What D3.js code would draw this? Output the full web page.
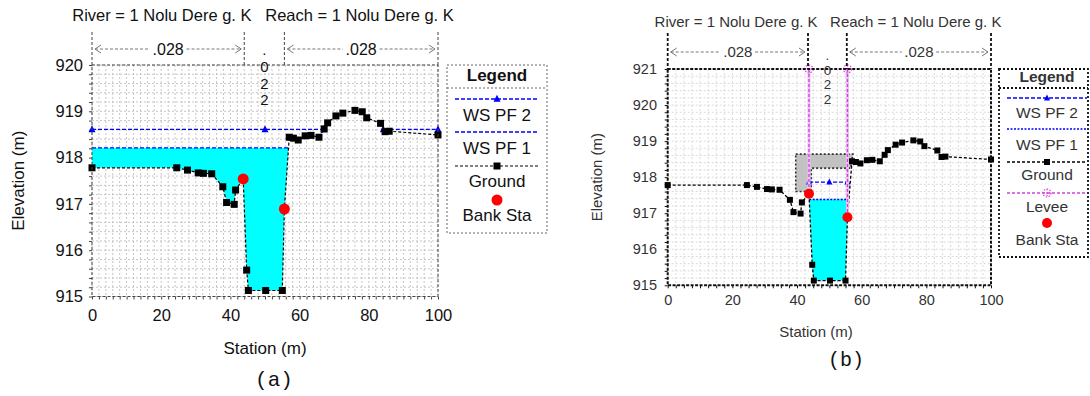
<!DOCTYPE html>
<html>
<head>
<meta charset="utf-8">
<script src="https://cdn.jsdelivr.net/npm/d3@7"></script>
<style>
  body { margin: 0; background: #fff; }
  svg text { font-family: "Liberation Sans", Arial, sans-serif; }
</style>
</head>
<body>
<svg id="chart" width="1090" height="396"></svg>
<script>
// cross section (same ground in both panels)
const groundSta = [0, 24.5, 27.6, 30.7, 32.2, 34.6, 37.8, 38.9, 41.1, 41.5, 43.7, 44.7, 45.2, 50.2, 55.0, 55.6,
  57.0, 58.2, 59.6, 61.6, 63.3, 65.6, 67.1, 68.1, 70.5, 72.5, 76.0, 78.1, 79.4, 83.4, 84.7, 85.9, 100];
const groundElev = [917.78, 917.78, 917.73, 917.67, 917.66, 917.65, 917.37, 917.03, 916.99, 917.30, 917.54, 915.57, 915.13, 915.13, 915.13, 916.89,
  918.44, 918.42, 918.38, 918.47, 918.48, 918.44, 918.62, 918.75, 918.90, 918.96, 919.02, 918.99, 918.86, 918.74, 918.56, 918.57, 918.49];

const bankSta = [43.7, 55.6];
const bankElev = [917.54, 916.89];

const nValues = ['.028', '.022', '.028'];
const nBreaksA = [0, 44.0, 55.6, 100];
const nBreaksB = [0, 43.4, 55.4, 100];

// water surfaces
const wsPf2A = 918.61, wsPf1A = 918.21;
const wsPf2B = 917.86, wsPf1B = 917.38;
const ws2MarksA = [0, 50, 67.0, 84.2, 100];
const ws2MarksB = [43.7, 50, 55.6];

// levees (panel b only)
const leveeSta = [43.7, 55.6];
const leveeElev = [921, 921];

// ineffective / obstructed area (panel b)
const ineffSta = [39.6, 57.3, 56.6, 44.4, 44.4, 39.6];
const ineffElev = [918.64, 918.64, 918.25, 918.25, 917.6, 917.6];

const xTicks = [0, 20, 40, 60, 80, 100];
const yTicksA = [915, 916, 917, 918, 919, 920];
const yTicksB = [915, 916, 917, 918, 919, 920, 921];

const legendA = ['WS PF 2', 'WS PF 1', 'Ground', 'Bank Sta'];
const legendB = ['WS PF 2', 'WS PF 1', 'Ground', 'Levee', 'Bank Sta'];
const titleText = 'River = 1 Nolu Dere g. K   Reach = 1 Nolu Dere g. K';

const svg = d3.select('#chart');

function groundAt(s) {
  let i = d3.bisectLeft(groundSta, s);
  i = Math.min(Math.max(i, 1), groundSta.length - 1);
  const x0 = groundSta[i - 1], x1 = groundSta[i];
  const t = (s - x0) / (x1 - x0);
  return groundElev[i - 1] + t * (groundElev[i] - groundElev[i - 1]);
}

// parts of the section between lo and hi where the ground is under the water surface
function wetSegments(ws, lo, hi) {
  const pts = [[lo, groundAt(lo)]];
  groundSta.forEach((s, i) => { if (s > lo && s < hi) pts.push([s, groundElev[i]]); });
  pts.push([hi, groundAt(hi)]);
  const segs = [];
  let cur = null;
  pts.forEach((p, i) => {
    if (i > 0) {
      const q = pts[i - 1];
      if ((q[1] - ws) * (p[1] - ws) < 0) {
        const c = [q[0] + (ws - q[1]) / (p[1] - q[1]) * (p[0] - q[0]), ws];
        if (cur) { cur.push(c); segs.push(cur); cur = null; }
        else cur = [c];
      }
    }
    if (p[1] <= ws) { if (!cur) cur = []; cur.push(p); }
  });
  if (cur) segs.push(cur);
  return segs;
}

function triangle(sel, cx, cy, s, color) {
  sel.append('path')
    .attr('d', `M${cx},${cy - s * 0.6}L${cx + s / 2},${cy + s * 0.4}L${cx - s / 2},${cy + s * 0.4}Z`)
    .attr('fill', color);
}

function leveeMark(sel, cx, cy, r) {
  sel.append('circle').attr('cx', cx).attr('cy', cy).attr('r', r)
    .attr('fill', 'none').attr('stroke', '#e040e0').attr('stroke-width', 1.2).attr('stroke-dasharray', '1.5,1.5');
  sel.append('path').attr('d', `M${cx - r},${cy}H${cx + r}M${cx},${cy - r}V${cy + r}`)
    .attr('stroke', '#e040e0').attr('stroke-width', 1).attr('stroke-dasharray', '1.5,1.5');
}

function drawPanel(c) {
  const g = svg.append('g');
  const x = d3.scaleLinear().domain([0, 100]).range([c.left, c.right]);
  const y = d3.scaleLinear().domain(c.yDomain).range([c.bottom, c.top]);

  // grid
  const gx = d3.range(0, 100.001, c.gridDx);
  const gy = d3.range(c.yDomain[0], c.yDomain[1] + 0.001, 0.2);
  g.append('g').selectAll('line').data(gx).join('line')
    .attr('x1', d => x(d)).attr('x2', d => x(d)).attr('y1', c.top).attr('y2', c.bottom)
    .attr('stroke', c.gridColor).attr('stroke-width', 0.8).attr('stroke-dasharray', '2,2');
  g.append('g').selectAll('line').data(gy).join('line')
    .attr('x1', c.left).attr('x2', c.right).attr('y1', d => y(d)).attr('y2', d => y(d))
    .attr('stroke', c.gridColor).attr('stroke-width', 0.8).attr('stroke-dasharray', '2,2');

  // small ticks along left and bottom
  g.append('g').attr('transform', `translate(${c.left},0)`)
    .call(d3.axisLeft(y).tickValues(gy).tickSize(3).tickFormat(''))
    .call(a => a.select('.domain').remove())
    .call(a => a.selectAll('line').attr('stroke', c.frameColor));
  g.append('g').attr('transform', `translate(0,${c.bottom})`)
    .call(d3.axisBottom(x).tickValues(gx).tickSize(3).tickFormat(''))
    .call(a => a.select('.domain').remove())
    .call(a => a.selectAll('line').attr('stroke', c.frameColor));

  // tick labels
  g.append('g').attr('transform', `translate(${c.left},0)`)
    .call(d3.axisLeft(y).tickValues(c.yTicks).tickSize(0).tickPadding(c.left - c.yLabelRight).tickFormat(d3.format('d')))
    .call(a => a.select('.domain').remove())
    .call(a => a.selectAll('text').attr('font-size', c.tickFont).attr('fill', c.textColor)
      .style('font-family', '"Liberation Sans", Arial, sans-serif'));
  g.append('g').attr('transform', `translate(0,${c.bottom})`)
    .call(d3.axisBottom(x).tickValues(xTicks).tickSize(0).tickPadding(c.xLabelPad).tickFormat(d3.format('d')))
    .call(a => a.select('.domain').remove())
    .call(a => a.selectAll('text').attr('font-size', c.tickFont).attr('fill', c.textColor)
      .style('font-family', '"Liberation Sans", Arial, sans-serif'));

  // obstructed area
  if (c.ineff) {
    g.append('path')
      .attr('d', d3.line().x(d => x(d[0])).y(d => y(d[1]))(d3.zip(ineffSta, ineffElev)) + 'Z')
      .attr('fill', '#c2c2c2').attr('stroke', '#333').attr('stroke-width', 1.6).attr('stroke-dasharray', '2,2');
  }

  // water fill (WS PF 1)
  const wet1 = wetSegments(c.ws1, c.wetRange[0], c.wetRange[1]);
  const area = d3.area().x(d => x(d[0])).y0(d => y(d[1])).y1(y(c.ws1));
  wet1.forEach(s => g.append('path').attr('d', area(s)).attr('fill', '#00ffff'));

  // water surface lines
  const wet2 = wetSegments(c.ws2, c.wetRange[0], c.wetRange[1]);
  wet2.forEach(s => g.append('line')
    .attr('x1', x(s[0][0])).attr('x2', x(s[s.length - 1][0])).attr('y1', y(c.ws2)).attr('y2', y(c.ws2))
    .attr('stroke', '#0000ff').attr('stroke-width', 1.3).attr('stroke-dasharray', '4,2'));
  c.ws2Marks.forEach(s => triangle(g, x(s), y(c.ws2), c.triSize, '#0000ff'));
  wet1.forEach(s => g.append('line')
    .attr('x1', x(s[0][0])).attr('x2', x(s[s.length - 1][0])).attr('y1', y(c.ws1)).attr('y2', y(c.ws1))
    .attr('stroke', '#0000ff').attr('stroke-width', 1.3).attr('stroke-dasharray', c.ws1Dash));

  // ground
  g.append('path').datum(d3.zip(groundSta, groundElev))
    .attr('d', d3.line().x(d => x(d[0])).y(d => y(d[1])))
    .attr('fill', 'none').attr('stroke', '#000').attr('stroke-width', c.groundWidth).attr('stroke-dasharray', '3,2');
  g.append('g').selectAll('rect').data(d3.zip(groundSta, groundElev)).join('rect')
    .attr('x', d => x(d[0]) - c.sq / 2).attr('y', d => y(d[1]) - c.sq / 2)
    .attr('width', c.sq).attr('height', c.sq).attr('fill', '#000');

  // levees
  if (c.levee) {
    leveeSta.forEach((s, i) => {
      g.append('line').attr('x1', x(s)).attr('x2', x(s)).attr('y1', y(leveeElev[i])).attr('y2', y(groundAt(s)))
        .attr('stroke', '#ebc4f2').attr('stroke-width', 3);
      g.append('line').attr('x1', x(s)).attr('x2', x(s)).attr('y1', y(leveeElev[i])).attr('y2', y(groundAt(s)))
        .attr('stroke', '#d040e0').attr('stroke-width', 1.3).attr('stroke-dasharray', '3,2');
      leveeMark(g, x(s), y(leveeElev[i]), 4);
    });
  }

  // bank stations
  g.append('g').selectAll('circle').data(d3.zip(bankSta, bankElev)).join('circle')
    .attr('cx', d => x(d[0])).attr('cy', d => y(d[1])).attr('r', c.bankR).attr('fill', '#ff0000');

  // frame
  g.append('rect').attr('x', c.left).attr('y', c.top).attr('width', c.right - c.left).attr('height', c.bottom - c.top)
    .attr('fill', 'none').attr('stroke', c.frameColor).attr('stroke-width', c.frameWidth).attr('stroke-dasharray', c.frameDash);

  // Manning's n annotation above the plot
  const nb = c.nBreaks;
  nb.forEach(s => g.append('line').attr('x1', x(s)).attr('x2', x(s)).attr('y1', c.annTop).attr('y2', c.top)
    .attr('stroke', c.frameColor).attr('stroke-width', c.annWidth).attr('stroke-dasharray', '3,2'));
  nValues.forEach((v, i) => {
    const x0 = x(nb[i]), x1 = x(nb[i + 1]), mid = (x0 + x1) / 2;
    if (i === 1) {
      ['.', ...v.slice(1)].forEach((ch, k) => g.append('text')
        .attr('x', mid).attr('y', c.chanY0 + k * c.chanStep).attr('text-anchor', 'middle')
        .attr('font-size', c.chanFont).attr('fill', c.textColor).text(ch));
      return;
    }
    const half = c.nFont * 1.15;
    const ay = c.arrowY;
    g.append('path').attr('d', `M${x0 + 3},${ay}H${mid - half}M${mid + half},${ay}H${x1 - 3}`)
      .attr('stroke', '#777').attr('stroke-width', 1).attr('stroke-dasharray', '3,2');
    g.append('path').attr('d', `M${x0 + 9},${ay - 4}L${x0 + 3},${ay}L${x0 + 9},${ay + 4}M${x1 - 9},${ay - 4}L${x1 - 3},${ay}L${x1 - 9},${ay + 4}`)
      .attr('fill', 'none').attr('stroke', '#777').attr('stroke-width', 1);
    g.append('text').attr('x', mid).attr('y', c.nLabelY).attr('text-anchor', 'middle')
      .attr('font-size', c.nFont).attr('fill', c.textColor).text(v);
  });

  // titles and axis labels
  g.append('text').attr('x', c.titleX).attr('y', c.titleY).attr('text-anchor', 'middle')
    .attr('font-size', c.titleFont).attr('fill', c.textColor).style('white-space', 'pre').text(titleText);
  g.append('text').attr('transform', `translate(${c.elevX},${(c.top + c.bottom) / 2}) rotate(-90)`)
    .attr('text-anchor', 'middle').attr('font-size', c.axisFont).attr('fill', c.textColor).text('Elevation (m)');
  g.append('text').attr('x', c.stationX).attr('y', c.stationY).attr('text-anchor', 'middle')
    .attr('font-size', c.axisFont).attr('fill', c.textColor).text('Station (m)');
  g.append('text').attr('x', c.tagX).attr('y', c.tagY).attr('text-anchor', 'middle')
    .style('font-family', '"Liberation Mono", "Courier New", monospace')
    .attr('font-size', c.tagFont).attr('fill', '#111').text(c.tag);

  // legend
  const L = c.legend;
  g.append('rect').attr('x', L.x).attr('y', L.y).attr('width', L.w).attr('height', L.h)
    .attr('fill', '#fff').attr('stroke', c.legendStroke).attr('stroke-width', c.legendStrokeW).attr('stroke-dasharray', '2,2');
  g.append('text').attr('x', L.cx).attr('y', L.headY).attr('text-anchor', 'middle')
    .attr('font-size', L.font).attr('font-weight', 'bold').attr('fill', c.textColor).text('Legend');
  g.append('line').attr('x1', L.x).attr('x2', L.x + L.w).attr('y1', L.sepY).attr('y2', L.sepY)
    .attr('stroke', c.legendStroke).attr('stroke-width', c.legendStrokeW).attr('stroke-dasharray', '2,2');
  c.legendNames.forEach((name, i) => {
    const ly = L.lineY[i];
    if (name.startsWith('WS')) {
      g.append('line').attr('x1', L.lx0).attr('x2', L.lx1).attr('y1', ly).attr('y2', ly)
        .attr('stroke', '#0000ff').attr('stroke-width', 1.3).attr('stroke-dasharray', name === 'WS PF 2' ? '4,2' : c.ws1Dash);
      if (name === 'WS PF 2') triangle(g, L.cx, ly, c.triSize, '#0000ff');
    } else if (name === 'Ground') {
      g.append('line').attr('x1', L.lx0).attr('x2', L.lx1).attr('y1', ly).attr('y2', ly)
        .attr('stroke', '#000').attr('stroke-width', c.groundWidth).attr('stroke-dasharray', '3,2');
      g.append('rect').attr('x', L.cx - c.sq / 2).attr('y', ly - c.sq / 2).attr('width', c.sq).attr('height', c.sq).attr('fill', '#000');
    } else if (name === 'Levee') {
      g.append('line').attr('x1', L.lx0).attr('x2', L.lx1).attr('y1', ly).attr('y2', ly)
        .attr('stroke', '#d040e0').attr('stroke-width', 1.4).attr('stroke-dasharray', '3,2');
      leveeMark(g, L.cx, ly, 4);
    } else {
      g.append('circle').attr('cx', L.cx).attr('cy', ly).attr('r', c.bankR).attr('fill', '#ff0000');
    }
    g.append('text').attr('x', L.cx).attr('y', L.textY[i]).attr('text-anchor', 'middle')
      .attr('font-size', L.font).attr('fill', c.textColor).text(name);
  });
}

drawPanel({
  left: 92, right: 438, top: 65, bottom: 296.5, yDomain: [915, 920], yTicks: yTicksA,
  gridDx: 2, gridColor: '#b8b8b8', frameColor: '#444', frameWidth: 1, frameDash: '3,2', annWidth: 1,
  textColor: '#111', tickFont: 16.5, yLabelRight: 83, xLabelPad: 13,
  ws1: wsPf1A, ws2: wsPf2A, wetRange: [0, 100], ws2Marks: ws2MarksA, ws1Dash: '4,2',
  triSize: 7, sq: 7, bankR: 5.5, groundWidth: 1.2,
  ineff: false, levee: false,
  nBreaks: nBreaksA, annTop: 32, arrowY: 49, nLabelY: 55, nFont: 16, chanFont: 15, chanY0: 55, chanStep: 16.8,
  titleX: 263, titleY: 21, titleFont: 16.5, axisFont: 17, elevX: 24, stationX: 265, stationY: 354,
  tag: '(a)', tagX: 274, tagY: 386, tagFont: 21,
  legendNames: legendA, legendStroke: '#666', legendStrokeW: 1,
  legend: { x: 447, y: 65, w: 100, h: 168, cx: 497, headY: 81, sepY: 88, lx0: 455, lx1: 538, font: 17,
    lineY: [99, 132, 166, 200], textY: [121, 154, 187, 221] }
});

drawPanel({
  left: 667.7, right: 991, top: 69, bottom: 285.3, yDomain: [915, 921], yTicks: yTicksB,
  gridDx: 2.5, gridColor: '#d0d0d0', frameColor: '#111', frameWidth: 2, frameDash: '3,1.5', annWidth: 1.8,
  textColor: '#333', tickFont: 14.5, yLabelRight: 657, xLabelPad: 9,
  ws1: wsPf1B, ws2: wsPf2B, wetRange: [leveeSta[0], leveeSta[1]], ws2Marks: ws2MarksB, ws1Dash: '2,1.5',
  triSize: 6, sq: 6, bankR: 5, groundWidth: 1.3,
  ineff: true, levee: true,
  nBreaks: nBreaksB, annTop: 33, arrowY: 52, nLabelY: 57, nFont: 15, chanFont: 13.5, chanY0: 60, chanStep: 14.7,
  titleX: 828, titleY: 27, titleFont: 15, axisFont: 15, elevX: 602, stationX: 816, stationY: 337,
  tag: '(b)', tagX: 846, tagY: 366, tagFont: 20,
  legendNames: legendB, legendStroke: '#111', legendStrokeW: 1.8,
  legend: { x: 999, y: 69, w: 89, h: 188, cx: 1047, headY: 82, sepY: 88, lx0: 1007, lx1: 1087, font: 15.5,
    lineY: [98, 129, 162, 193, 223], textY: [118, 150, 180, 212, 245] }
});
</script>
</body>
</html>
